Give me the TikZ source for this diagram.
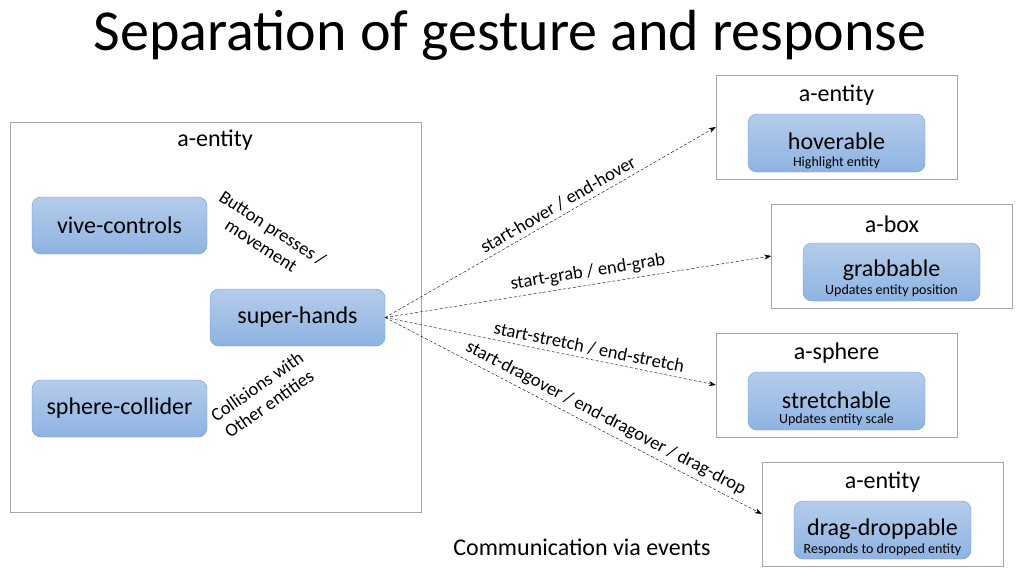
\documentclass[tikz,border=0pt]{standalone}
\usepackage{fontspec}
\setmainfont{Carlito}
\usetikzlibrary{arrows.meta}

\definecolor{compborder}{HTML}{6C9BD5}
\definecolor{comptop}{HTML}{B4CCEA}
\definecolor{compbottom}{HTML}{8EB3E2}
\definecolor{boxgray}{HTML}{A6A6A6}

\tikzset{
  comp/.style={draw=compborder, rounded corners=9pt, top color=comptop,
    bottom color=compbottom, minimum width=175pt, minimum height=57pt,
    inner sep=0pt},
  entitybox/.style={draw=boxgray, minimum width=241pt, minimum height=104pt,
    inner sep=0pt},
  event/.style={densely dashed, -{Stealth[length=7pt,width=5pt]}},
  eventlabel/.style={font=\fontsize{18.5}{19}\selectfont, sloped, above, inner sep=4.5pt}
}

\begin{document}
\begin{tikzpicture}[x=1pt, y=-1pt]
  \useasboundingbox (0,0) rectangle (1022,586);

  % Title
  \node[font=\fontsize{58}{64}\selectfont] (title) at (510,35) {Separation of gesture and response};

  % Gesture side
  \node[draw=boxgray, minimum width=411pt, minimum height=390pt, inner sep=0pt] (gesture) at (215.5,317) {};
  \node[font=\fontsize{24}{26}\selectfont] (gesturename) at (215,140) {a-entity};

  \node[comp, font=\fontsize{24}{26}\selectfont] (vive) at (119.5,225.5) {vive-controls};
  \node[comp, font=\fontsize{24}{26}\selectfont] (hands) at (297.5,317.5) {super-hands};
  \node[comp, font=\fontsize{24}{26}\selectfont] (collider) at (119.5,408.5) {sphere-collider};

  \node[font=\fontsize{18.5}{21}\selectfont, align=center, rotate=-33] (buttons) at (267,237) {Button presses /\\movement};
  \node[font=\fontsize{18.5}{21}\selectfont, align=center, rotate=35] (collisions) at (263,395) {Collisions with\\Other entities};

  % Response side
  \node[entitybox] (hovbox) at (836.5,127) {};
  \node[font=\fontsize{24}{26}\selectfont] (hovname) at (836.5,95) {a-entity};
  \node[comp, minimum width=177pt, minimum height=58pt] (hov) at (836.5,143) {};
  \node[font=\fontsize{24}{26}\selectfont] (hovtext) at (836.5,141) {hoverable};
  \node[font=\fontsize{14}{15}\selectfont] (hovsub) at (836.5,163) {Highlight entity};

  \node[entitybox] (grabbox) at (892,256) {};
  \node[font=\fontsize{24}{26}\selectfont] (grabname) at (892,224) {a-box};
  \node[comp, minimum width=177pt, minimum height=58pt] (grab) at (891.5,272) {};
  \node[font=\fontsize{24}{26}\selectfont] (grabtext) at (891.5,270) {grabbable};
  \node[font=\fontsize{14}{15}\selectfont] (grabsub) at (891.5,291) {Updates entity position};

  \node[entitybox] (strbox) at (836.5,385) {};
  \node[font=\fontsize{24}{26}\selectfont] (strname) at (836.5,353) {a-sphere};
  \node[comp, minimum width=177pt, minimum height=58pt] (str) at (836.5,401) {};
  \node[font=\fontsize{24}{26}\selectfont] (strtext) at (836.5,400) {stretchable};
  \node[font=\fontsize{14}{15}\selectfont] (strsub) at (836.5,420) {Updates entity scale};

  \node[entitybox] (dropbox) at (882.5,514) {};
  \node[font=\fontsize{24}{26}\selectfont] (dropname) at (882.5,482) {a-entity};
  \node[comp, minimum width=177pt, minimum height=58pt] (drop) at (882.5,530) {};
  \node[font=\fontsize{24}{26}\selectfont] (droptext) at (882.5,529) {drag-droppable};
  \node[font=\fontsize{14}{15}\selectfont] (dropsub) at (882.5,550) {Responds to dropped entity};

  % Events
  \draw[event] (hands.east) -- (hovbox.west) node[eventlabel, pos=0.54] {start-hover / end-hover};
  \draw[event] (hands.east) -- (grabbox.west) node[eventlabel, pos=0.53] {start-grab / end-grab};
  \draw[event] (hands.east) -- (strbox.west) node[eventlabel, pos=0.61] {start-stretch / end-stretch};
  \draw[event] (hands.east) -- (dropbox.west) node[eventlabel, pos=0.57] {start-dragover / end-dragover / drag-drop};

  \node[font=\fontsize{24}{26}\selectfont] (caption) at (582,547) {Communication via events};

\end{tikzpicture}
\end{document}
